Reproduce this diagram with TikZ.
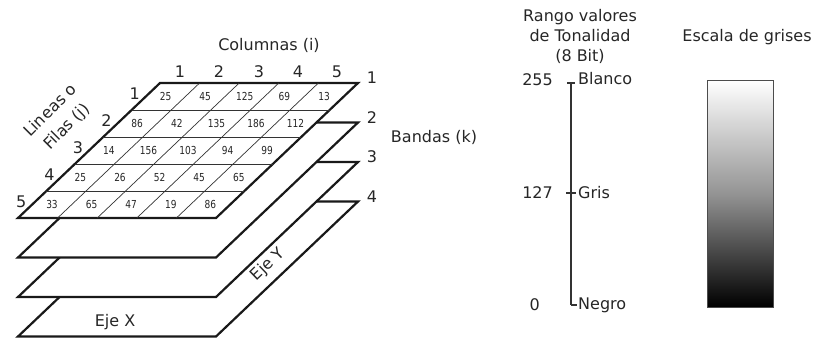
\documentclass[tikz,border=0pt]{standalone}
\usepackage{fontspec}
\setmainfont{DejaVu Sans}
\newfontfamily\cellfamily[FakeStretch=0.82]{DejaVu Sans}
\usetikzlibrary{positioning}

\begin{document}
\begin{tikzpicture}[
  x=1pt, y=-1pt,
  lbl/.style={font=\fontsize{16}{20}\selectfont, text=black!85, inner sep=0pt},
  cell/.style={font=\cellfamily\fontsize{11}{13}\selectfont, text=black!85, inner sep=0pt},
  band/.style={shift={(160,#1)}, x={(39.6pt,0pt)}, y={(-28.4pt,-27pt)}},
  plane/.style={draw=black!90, fill=white, line width=2.2pt, line join=miter},
  gridline/.style={draw=black!80, line width=0.7pt},
  scaleline/.style={draw=black!80, line width=1.2pt}
]
\useasboundingbox (0,0) rectangle (824,338);

% bands, lowest first
\begin{scope}[band=201.5]
  \draw[plane] (0,0) -- (5,0) -- (5,5) -- (0,5) -- cycle;
\end{scope}
\begin{scope}[band=162]
  \draw[plane] (0,0) -- (5,0) -- (5,5) -- (0,5) -- cycle;
\end{scope}
\begin{scope}[band=122.5]
  \draw[plane] (0,0) -- (5,0) -- (5,5) -- (0,5) -- cycle;
\end{scope}
\begin{scope}[band=83]
  \draw[plane] (0,0) -- (5,0) -- (5,5) -- (0,5) -- cycle;
  \draw[gridline] (0,1) -- (5,1) (0,2) -- (5,2) (0,3) -- (5,3) (0,4) -- (5,4);
  \draw[gridline] (1,0) -- (1,5) (2,0) -- (2,5) (3,0) -- (3,5) (4,0) -- (4,5);
  % pixel values
  \node[cell] (c11) at (0.5,0.5) {25};
  \node[cell] (c12) at (1.5,0.5) {45};
  \node[cell] (c13) at (2.5,0.5) {125};
  \node[cell] (c14) at (3.5,0.5) {69};
  \node[cell] (c15) at (4.5,0.5) {13};
  \node[cell] (c21) at (0.5,1.5) {86};
  \node[cell] (c22) at (1.5,1.5) {42};
  \node[cell] (c23) at (2.5,1.5) {135};
  \node[cell] (c24) at (3.5,1.5) {186};
  \node[cell] (c25) at (4.5,1.5) {112};
  \node[cell] (c31) at (0.5,2.5) {14};
  \node[cell] (c32) at (1.5,2.5) {156};
  \node[cell] (c33) at (2.5,2.5) {103};
  \node[cell] (c34) at (3.5,2.5) {94};
  \node[cell] (c35) at (4.5,2.5) {99};
  \node[cell] (c41) at (0.5,3.5) {25};
  \node[cell] (c42) at (1.5,3.5) {26};
  \node[cell] (c43) at (2.5,3.5) {52};
  \node[cell] (c44) at (3.5,3.5) {45};
  \node[cell] (c45) at (4.5,3.5) {65};
  \node[cell] (c51) at (0.5,4.5) {33};
  \node[cell] (c52) at (1.5,4.5) {65};
  \node[cell] (c53) at (2.5,4.5) {47};
  \node[cell] (c54) at (3.5,4.5) {19};
  \node[cell] (c55) at (4.5,4.5) {86};
  % row numbers
  \node[lbl] (row1) at (-0.35,0.4) {1};
  \node[lbl] (row2) at (-0.35,1.4) {2};
  \node[lbl] (row3) at (-0.35,2.4) {3};
  \node[lbl] (row4) at (-0.35,3.4) {4};
  \node[lbl] (row5) at (-0.35,4.4) {5};
\end{scope}

% column numbers
\node[lbl] (col1) at (180,72) {1};
\node[lbl] (col2) at (219,72) {2};
\node[lbl] (col3) at (259,72) {3};
\node[lbl] (col4) at (298,72) {4};
\node[lbl] (col5) at (337,72) {5};
\node[lbl] (columnas) at (269,45) {Columnas (i)};
\node[lbl, font=\fontsize{16}{23}\selectfont, align=center, rotate=45] (filas) at (59,119) {Lineas o\\Filas (j)};

% band numbers
\node[lbl] (band1) at (372,78) {1};
\node[lbl] (band2) at (372,118) {2};
\node[lbl] (band3) at (372,157) {3};
\node[lbl] (band4) at (372,197) {4};
\node[lbl] (bandas) at (434,137) {Bandas (k)};
\node[lbl, rotate=44] (ejey) at (268,265) {Eje Y};
\node[lbl] (ejex) at (115,322) {Eje X};

% tonal range
\node[lbl, align=center] (rango) at (580,36) {Rango valores\\de Tonalidad\\(8 Bit)};
\coordinate (s255) at (571,83);
\coordinate (s127) at (571,193);
\coordinate (s0) at (571,305);
\draw[scaleline] (s255) -- (s0);
\draw[scaleline] ([xshift=-4pt]s255) -- ([xshift=4pt]s255);
\draw[scaleline] ([xshift=-5pt]s127) -- ([xshift=5pt]s127);
\draw[scaleline] (s0) -- ([xshift=6pt]s0);
\node[lbl, left=18pt of s255, yshift=3pt] (v255) {255};
\node[lbl, left=18pt of s127] (v127) {127};
\node[lbl, left=31pt of s0] (v0) {0};
\node[lbl, right=7pt of s255, yshift=4pt] (blanco) {Blanco};
\node[lbl, right=7pt of s127] (gris) {Gris};
\node[lbl, right=7pt of s0] (negro) {Negro};

% grey scale
\node[lbl] (escala) at (747,37) {Escala de grises};
\shade[top color=white, bottom color=black, middle color=black!42, draw=black!70, line width=1pt]
  (707,80) rectangle (773,307);
\end{tikzpicture}
\end{document}
